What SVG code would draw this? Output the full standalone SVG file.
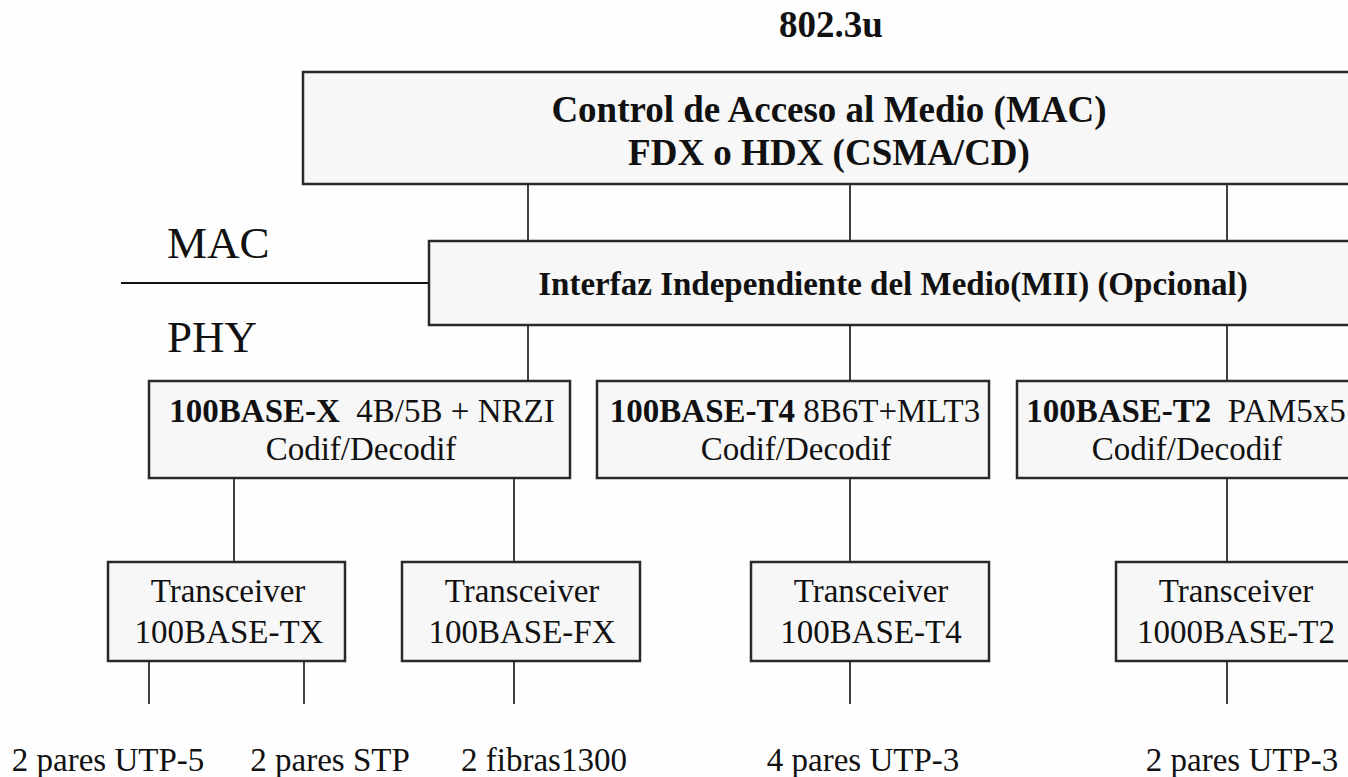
<svg xmlns="http://www.w3.org/2000/svg" width="1348" height="777" viewBox="0 0 1348 777">
<style>
.box{fill:#f7f7f7;stroke:#2a2a2a;stroke-width:2.5}
.ln{stroke:#111;stroke-width:1.6;fill:none}
text{font-family:"Liberation Serif","Times New Roman",serif;fill:#111}
.b{font-weight:bold}
.c{text-anchor:middle}
.f37{font-size:37px}
.f33{font-size:33px}
.f45{font-size:45px}
</style>
<rect width="1348" height="777" fill="#fefefe"/>
<text id="title" class="b c f37" x="831" y="37">802.3u</text>
<g id="layer-labels">
<text class="f45" x="167" y="258">MAC</text>
<text class="f45" x="167" y="352">PHY</text>
</g>
<g id="connectors">
<line class="ln" x1="121" y1="283" x2="429" y2="283" style="stroke-width:2"/>
<line class="ln" x1="528" y1="184" x2="528" y2="241"/>
<line class="ln" x1="850" y1="184" x2="850" y2="241"/>
<line class="ln" x1="1227" y1="184" x2="1227" y2="241"/>
<line class="ln" x1="528" y1="325" x2="528" y2="381"/>
<line class="ln" x1="850" y1="325" x2="850" y2="381"/>
<line class="ln" x1="1227" y1="325" x2="1227" y2="381"/>
<line class="ln" x1="234" y1="478" x2="234" y2="562"/>
<line class="ln" x1="514" y1="478" x2="514" y2="562"/>
<line class="ln" x1="850" y1="478" x2="850" y2="562"/>
<line class="ln" x1="1227" y1="478" x2="1227" y2="562"/>
<line class="ln" x1="149" y1="661" x2="149" y2="704"/>
<line class="ln" x1="304" y1="661" x2="304" y2="704"/>
<line class="ln" x1="514" y1="661" x2="514" y2="704"/>
<line class="ln" x1="850" y1="661" x2="850" y2="704"/>
<line class="ln" x1="1227" y1="661" x2="1227" y2="704"/>
</g>
<g id="mac">
<rect class="box" x="303" y="72" width="1055" height="112"/>
<text class="b c f37" x="829" y="122">Control de Acceso al Medio (MAC)</text>
<text class="b c f37" x="829" y="165">FDX o HDX (CSMA/CD)</text>
</g>
<g id="mii">
<rect class="box" x="429" y="241" width="929" height="84"/>
<text class="b c f33" x="893" y="295">Interfaz Independiente del Medio(MII) (Opcional)</text>
</g>
<g id="pcs-x">
<rect class="box" x="149" y="381" width="421" height="97"/>
<text class="c f33" x="362" y="422" xml:space="preserve"><tspan class="b">100BASE-X</tspan>  4B/5B + NRZI</text>
<text class="c f33" x="361" y="460">Codif/Decodif</text>
</g>
<g id="pcs-t4">
<rect class="box" x="597" y="381" width="392" height="97"/>
<text class="c f33" x="795" y="422" xml:space="preserve"><tspan class="b">100BASE-T4</tspan> 8B6T+MLT3</text>
<text class="c f33" x="796" y="460">Codif/Decodif</text>
</g>
<g id="pcs-t2">
<rect class="box" x="1017" y="381" width="341" height="97"/>
<text class="c f33" x="1186" y="422" xml:space="preserve"><tspan class="b">100BASE-T2</tspan>  PAM5x5</text>
<text class="c f33" x="1187" y="460">Codif/Decodif</text>
</g>
<g id="tx">
<rect class="box" x="108" y="562" width="237" height="99"/>
<text class="c f33" x="228" y="602">Transceiver</text>
<text class="c f33" x="229" y="643">100BASE-TX</text>
</g>
<g id="fx">
<rect class="box" x="402" y="562" width="238" height="99"/>
<text class="c f33" x="522" y="602">Transceiver</text>
<text class="c f33" x="522" y="643">100BASE-FX</text>
</g>
<g id="t4">
<rect class="box" x="751" y="562" width="238" height="99"/>
<text class="c f33" x="871" y="602">Transceiver</text>
<text class="c f33" x="871" y="643">100BASE-T4</text>
</g>
<g id="t2">
<rect class="box" x="1116" y="562" width="242" height="99"/>
<text class="c f33" x="1236" y="602">Transceiver</text>
<text class="c f33" x="1236" y="643">1000BASE-T2</text>
</g>
<g id="media">
<text class="c f33" x="108" y="771">2 pares UTP-5</text>
<text class="c f33" x="330" y="771">2 pares STP</text>
<text class="c f33" x="544" y="771">2 fibras1300</text>
<text class="c f33" x="863" y="771">4 pares UTP-3</text>
<text class="c f33" x="1242" y="771">2 pares UTP-3</text>
</g>
</svg>
